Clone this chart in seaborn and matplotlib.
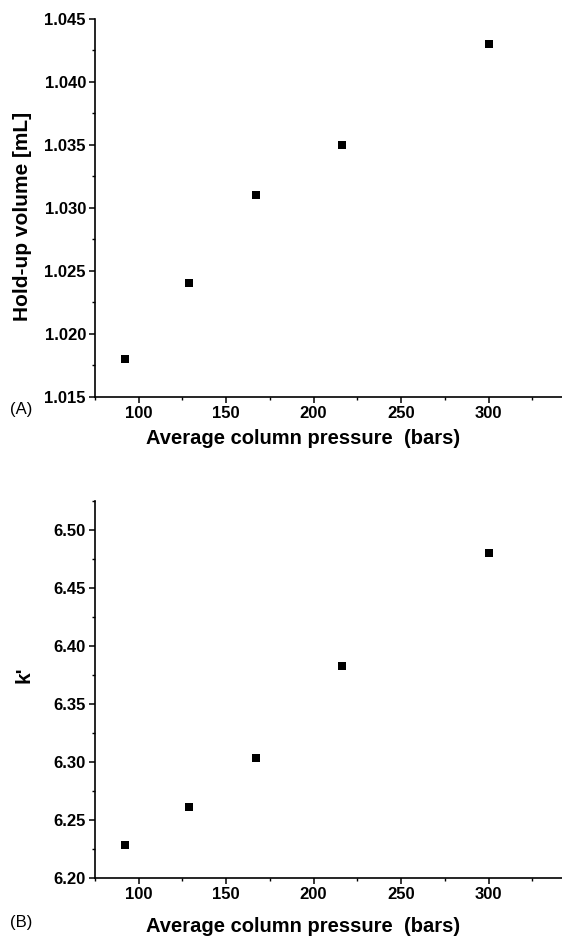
import numpy as np
import pandas as pd
import matplotlib
matplotlib.use('Agg')
import matplotlib.pyplot as plt
from matplotlib.ticker import MultipleLocator, FormatStrFormatter
import seaborn as sns

# data
pressure = [92, 129, 167, 216, 300]
holdup_volume = [1.018, 1.024, 1.031, 1.035, 1.043]
k_prime = [6.228, 6.261, 6.303, 6.383, 6.480]

df = pd.DataFrame({'pressure': pressure, 'holdup': holdup_volume, 'k': k_prime})

sns.set_style("ticks")
plt.rcParams['font.family'] = ['Liberation Sans', 'DejaVu Sans']
plt.rcParams['font.weight'] = 'bold'
plt.rcParams['text.color'] = 'black'
plt.rcParams['axes.labelcolor'] = 'black'
plt.rcParams['xtick.color'] = 'black'
plt.rcParams['ytick.color'] = 'black'

fig = plt.figure(figsize=(5.62, 9.36), dpi=100)
ax1 = fig.add_axes([0.169, 0.576, 0.831, 0.404])
ax2 = fig.add_axes([0.169, 0.062, 0.831, 0.403])


def style_axis(ax, ymajor, yminor, fmt):
    ax.xaxis.set_major_locator(MultipleLocator(50))
    ax.xaxis.set_minor_locator(MultipleLocator(25))
    ax.yaxis.set_major_locator(MultipleLocator(ymajor))
    ax.yaxis.set_minor_locator(MultipleLocator(yminor))
    ax.yaxis.set_major_formatter(FormatStrFormatter(fmt))
    ax.tick_params(which='major', direction='out', length=4, width=1.1, labelsize=12, pad=2.5,
                   color='black', labelcolor='black')
    ax.tick_params(which='minor', direction='out', length=2.5, width=1.0, color='black')
    for lab in ax.get_xticklabels() + ax.get_yticklabels():
        lab.set_fontweight('bold')
    for side in ['top', 'right']:
        ax.spines[side].set_visible(False)
    for side in ['left', 'bottom']:
        ax.spines[side].set_linewidth(1.2)
        ax.spines[side].set_color('black')
    ax.set_xlim(75, 342)


# panel A
sns.scatterplot(data=df, x='pressure', y='holdup', marker='s', color='black',
                s=30, edgecolor='black', linewidth=0, ax=ax1)
style_axis(ax1, 0.005, 0.0025, '%.3f')
ax1.set_ylim(1.015, 1.045)
ax1.set_xlabel('Average column pressure  (bars)', fontsize=14.5, fontweight='bold', color='black')
ax1.set_ylabel('Hold-up volume [mL]', fontsize=15, fontweight='bold', color='black')
ax1.xaxis.set_label_coords(0.445, -0.085)
ax1.yaxis.set_label_coords(-0.135, 0.478)
fig.text(0.018, 0.563, '(A)', fontsize=12, fontweight='normal', va='center', color='black')

# panel B
sns.scatterplot(data=df, x='pressure', y='k', marker='s', color='black',
                s=30, edgecolor='black', linewidth=0, ax=ax2)
style_axis(ax2, 0.05, 0.025, '%.2f')
ax2.set_ylim(6.20, 6.525)
ax2.set_xlabel('Average column pressure  (bars)', fontsize=14.5, fontweight='bold', color='black')
ax2.set_ylabel("k'", fontsize=15, fontweight='bold', color='black')
ax2.xaxis.set_label_coords(0.445, -0.104)
ax2.yaxis.set_label_coords(-0.131, 0.538)
fig.text(0.018, 0.014, '(B)', fontsize=12, fontweight='normal', va='center', color='black')

fig.savefig('out.png', dpi=100)
